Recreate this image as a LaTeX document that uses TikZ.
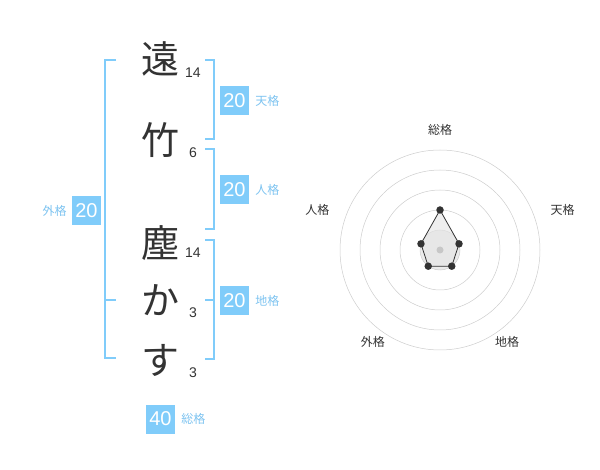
\documentclass[tikz,border=0pt]{standalone}
\usepackage{fontspec}
\setmainfont{Noto Sans CJK JP}
\newfontfamily\numfont{Liberation Sans}
\usetikzlibrary{positioning}
\definecolor{kakublue}{RGB}{128,204,250}
\definecolor{kakutext}{RGB}{125,195,240}
\definecolor{moji}{RGB}{51,51,51}
\definecolor{ringgray}{RGB}{205,205,205}
\tikzset{
  kanji/.style={font=\fontsize{38}{38}\selectfont,text=moji,inner sep=0},
  strokes/.style={font=\numfont\fontsize{14}{14}\selectfont,text=moji,inner sep=0},
  kakubox/.style={fill=kakublue,text=white,minimum size=29pt,inner sep=0,font=\numfont\fontsize{20}{20}\selectfont},
  kakulabel/.style={text=kakutext,font=\fontsize{12}{12}\selectfont,inner sep=0},
  bracket/.style={draw=kakublue,line width=1.5pt},
  axislabel/.style={text=moji,font=\fontsize{12}{12}\selectfont,inner sep=0},
  dot/.style={fill=moji,circle,inner sep=0,minimum size=7.5pt}
}
\begin{document}
\begin{tikzpicture}[x=1pt,y=-1pt]
  % canvas
  \useasboundingbox (0,0) rectangle (600,470);

  % name characters
  \node[kanji] (c1) at (160,59)  {遠};
  \node[kanji] (c2) at (160,140) {竹};
  \node[kanji] (c3) at (160,243) {塵};
  \node[kanji] (c4) at (160,300) {か};
  \node[kanji] (c5) at (160,360) {す};

  % stroke counts
  \node[strokes] (n1) at (193,73)  {14};
  \node[strokes] (n2) at (193,153) {6};
  \node[strokes] (n3) at (193,253) {14};
  \node[strokes] (n4) at (193,313) {3};
  \node[strokes] (n5) at (193,373) {3};

  % brackets
  \draw[bracket] (116,60) -- (105,60) -- (105,358) -- (116,358);   % gaikaku
  \draw[bracket] (105,300) -- (116,300);
  \draw[bracket] (205,60) -- (214,60) -- (214,139) -- (205,139);   % tenkaku
  \draw[bracket] (205,149) -- (214,149) -- (214,229) -- (205,229); % jinkaku
  \draw[bracket] (205,240) -- (214,240) -- (214,359) -- (205,359); % chikaku
  \draw[bracket] (214,300) -- (205,300);

  % scores
  \node[kakubox] (gai) at (86.5,210.5) {20};
  \node[kakulabel,left=5pt of gai] (gai-l) {外格};
  \node[kakubox] (ten) at (234.5,100.5) {20};
  \node[kakulabel,right=6pt of ten] (ten-l) {天格};
  \node[kakubox] (jin) at (234.5,190) {20};
  \node[kakulabel,right=6pt of jin] (jin-l) {人格};
  \node[kakubox] (chi) at (234.5,300.5) {20};
  \node[kakulabel,right=6pt of chi] (chi-l) {地格};
  \node[kakubox] (sou) at (160.5,419) {40};
  \node[kakulabel,right=6pt of sou] (sou-l) {総格};

  % radar chart
  \begin{scope}[shift={(440,250)}]
    \coordinate (c) at (0,0);
    \fill[black!8] (c) circle (20);
    \foreach \r in {20,40,60,80,100}
      \draw[ringgray,line width=0.5pt] (c) circle (\r);
    \coordinate (r-sou) at (-90:40);
    \coordinate (r-ten) at (-18:20);
    \coordinate (r-chi) at (54:20);
    \coordinate (r-gai) at (126:20);
    \coordinate (r-jin) at (198:20);
    \fill[black!10,opacity=0.6] (r-sou) -- (r-ten) -- (r-chi) -- (r-gai) -- (r-jin) -- cycle;
    \draw[moji,line width=0.8pt] (r-sou) -- (r-ten) -- (r-chi) -- (r-gai) -- (r-jin) -- cycle;
    \fill[black!22] (c) circle (3.5);
    \foreach \p in {sou,ten,chi,gai,jin}
      \node[dot] at (r-\p) {};
    % axis labels
    \node[axislabel] (a-sou) at (-90:120) {総格};
    \node[axislabel] (a-ten) at (-18:129) {天格};
    \node[axislabel] (a-chi) at (54:114) {地格};
    \node[axislabel] (a-gai) at (126:114) {外格};
    \node[axislabel] (a-jin) at (198:129) {人格};
  \end{scope}
\end{tikzpicture}
\end{document}
